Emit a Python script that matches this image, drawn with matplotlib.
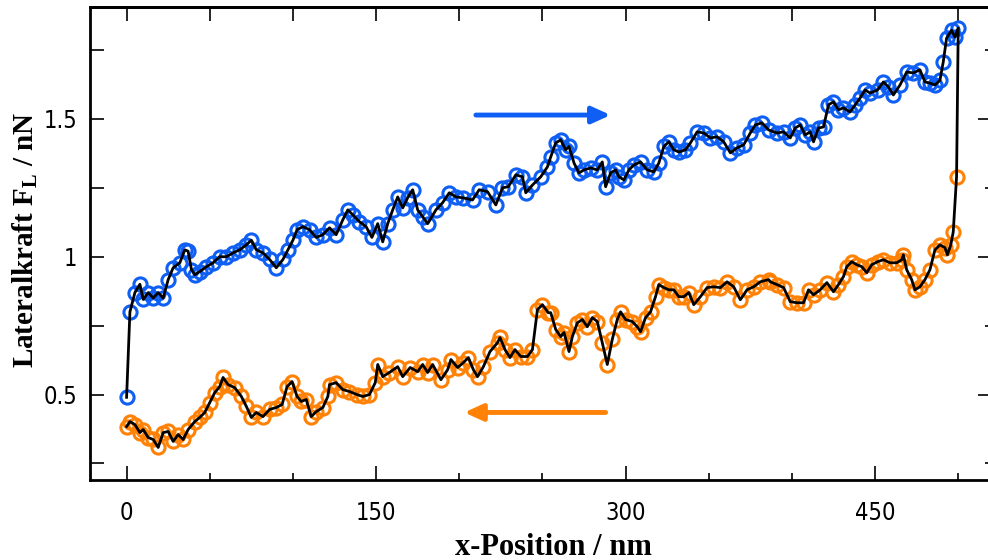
import matplotlib
matplotlib.use("Agg")
import matplotlib.pyplot as plt
from matplotlib.ticker import MultipleLocator

# ---- data: trace (blue, left -> right) ----
trace_x = [0, 2, 5, 8, 10, 13, 16, 19, 22, 25, 28, 32, 35, 37, 39, 41, 44, 48, 52, 56,
           60, 64, 68, 72, 75, 78, 82, 86, 90, 94, 97, 100, 102.5, 106, 110, 114, 118, 122,
           126, 130, 133, 136, 140, 144, 147.5, 151, 154, 157, 160, 163, 166, 169, 172, 175,
           178, 181, 186, 190, 194, 198, 202, 208, 212, 217, 222, 226, 229.5, 234, 238, 240,
           244, 249, 253, 255, 258, 261, 264, 266, 269, 272, 275, 279, 283, 286, 288, 291,
           294, 296, 299, 302, 305, 309, 313, 317, 320, 323, 326, 329, 332, 336, 339, 343,
           347, 351, 355, 359, 363, 367, 371, 375, 378, 382, 386, 391, 395, 399, 402, 405,
           408, 411, 413, 416, 419, 422, 425, 428, 431, 435, 438, 441, 444, 447, 451.5, 455,
           458, 461, 465, 469, 473, 477, 480, 483, 486, 489, 491, 493, 496, 498, 500]
trace_y = [0.49, 0.80, 0.87, 0.90, 0.845, 0.87, 0.85, 0.87, 0.85, 0.917, 0.96, 0.978, 1.025,
           1.02, 0.953, 0.935, 0.946, 0.964, 0.978, 1.0, 1.0, 1.014, 1.025, 1.043, 1.06, 1.025,
           1.014, 0.99, 0.96, 0.99, 1.025, 1.06, 1.098, 1.109, 1.098, 1.07, 1.08, 1.105,
           1.08, 1.134, 1.17, 1.152, 1.127, 1.109, 1.07, 1.12, 1.054, 1.12, 1.17, 1.217,
           1.177, 1.214, 1.243, 1.17, 1.145, 1.12, 1.17, 1.196, 1.232, 1.217, 1.214, 1.206,
           1.243, 1.236, 1.188, 1.25, 1.254, 1.297, 1.29, 1.232, 1.26, 1.29, 1.326, 1.362,
           1.413, 1.424, 1.388, 1.40, 1.34, 1.304, 1.315, 1.322, 1.315, 1.344, 1.254, 1.304,
           1.315, 1.29, 1.279, 1.315, 1.333, 1.344, 1.315, 1.308, 1.34, 1.40, 1.417, 1.388,
           1.38, 1.388, 1.413, 1.453, 1.449, 1.431, 1.435, 1.417, 1.377, 1.395, 1.406, 1.449,
           1.478, 1.486, 1.46, 1.449, 1.453, 1.431, 1.467, 1.478, 1.442, 1.453, 1.417, 1.467,
           1.471, 1.551, 1.562, 1.533, 1.54, 1.525, 1.551, 1.576, 1.605, 1.594, 1.605, 1.634,
           1.616, 1.587, 1.623, 1.67, 1.667, 1.678, 1.634, 1.63, 1.623, 1.64, 1.707, 1.793,
           1.822, 1.797, 1.83]

# ---- data: retrace (orange, right -> left) ----
retrace_x = [499, 497, 495.5, 493.5, 492, 489, 486, 483, 480, 477, 474, 472, 469, 467, 466,
             463, 459, 455, 451.5, 448, 445, 442, 439, 436, 433, 431, 428, 425, 421, 417,
             413, 410, 407, 403, 399, 395, 391, 387, 386, 381, 377, 373, 369, 365, 361, 357,
             353, 349, 345, 341, 338, 335, 332, 329, 326, 323, 320, 318, 315, 312, 309, 307,
             304, 300, 297, 295, 292, 289, 286, 283, 280, 277, 274, 271, 268, 266, 263, 261,
             258, 255, 253.5, 250, 247, 244, 241, 237, 233.5, 230.5, 227.5, 224.5, 223,
             218.5, 214.5, 211, 208.5, 205.5, 202.5, 199, 195, 193, 189, 184, 181, 178, 175,
             170.5, 166, 163, 158, 154, 151, 149.5, 146, 142, 138.5, 134, 130, 126, 122, 121,
             118, 114, 111, 108, 105, 102.5, 99.5, 96.5, 93.5, 90, 86, 82, 78, 75, 72, 69, 65,
             61, 58, 56, 53, 50, 47, 44, 41, 37, 34, 31, 28, 25, 22, 19, 16, 13, 10, 8, 5, 2, 0]
retrace_y = [1.29, 1.09, 1.043, 1.007, 1.033, 1.043, 1.025, 0.953, 0.917, 0.891, 0.88, 0.917,
             0.953, 1.007, 0.989, 0.978, 0.978, 0.989, 0.982, 0.971, 0.942, 0.964, 0.971,
             0.982, 0.964, 0.928, 0.899, 0.873, 0.906, 0.88, 0.862, 0.88, 0.833, 0.833, 0.837,
             0.888, 0.899, 0.909, 0.917, 0.909, 0.891, 0.88, 0.844, 0.891, 0.909, 0.888,
             0.891, 0.888, 0.855, 0.826, 0.87, 0.855, 0.855, 0.88, 0.88, 0.888, 0.899, 0.855,
             0.80, 0.779, 0.728, 0.746, 0.765, 0.772, 0.80, 0.772, 0.70, 0.609, 0.688, 0.765,
             0.779, 0.746, 0.772, 0.76, 0.71, 0.656, 0.725, 0.71, 0.736, 0.797, 0.797, 0.826,
             0.808, 0.663, 0.638, 0.638, 0.663, 0.634, 0.663, 0.707, 0.688, 0.656, 0.601,
             0.565, 0.59, 0.634, 0.616, 0.598, 0.627, 0.59, 0.554, 0.609, 0.58, 0.609, 0.583,
             0.598, 0.565, 0.601, 0.58, 0.565, 0.609, 0.543, 0.50, 0.493, 0.50, 0.511, 0.518,
             0.543, 0.536, 0.493, 0.453, 0.438, 0.42, 0.482, 0.475, 0.493, 0.547, 0.529,
             0.464, 0.453, 0.446, 0.42, 0.435, 0.417, 0.457, 0.493, 0.525, 0.536, 0.562,
             0.529, 0.507, 0.471, 0.435, 0.417, 0.402, 0.373, 0.337, 0.355, 0.33, 0.366,
             0.362, 0.308, 0.337, 0.344, 0.373, 0.362, 0.391, 0.402, 0.384]

x_ticks = [0, 150, 300, 450]
x_ticklabels = ["0", "150", "300", "450"]
y_ticks = [0.5, 1.0, 1.5]
y_ticklabels = ["0.5", "1", "1.5"]

BLUE = "#0f5ff5"
ORANGE = "#ff8207"

serif = ["Liberation Serif", "DejaVu Serif"]
plt.rcParams["mathtext.fontset"] = "custom"
plt.rcParams["mathtext.bf"] = "Liberation Serif:bold"
plt.rcParams["mathtext.rm"] = "Liberation Serif:bold"

fig = plt.figure(figsize=(9.88, 5.6), dpi=100)
ax = fig.add_axes([90 / 988, 80 / 560, 899 / 988, 473 / 560])

ax.plot(trace_x, trace_y, ls="none", marker="o", ms=9.5, mfc="none", mec=BLUE, mew=2.2, zorder=2)
ax.plot(retrace_x, retrace_y, ls="none", marker="o", ms=9.5, mfc="none", mec=ORANGE, mew=2.2, zorder=2)
ax.plot(trace_x + retrace_x, trace_y + retrace_y, color="black", lw=2.0, zorder=3)

ax.annotate("", xy=(291, 1.514), xytext=(210, 1.514),
            arrowprops=dict(arrowstyle="-|>,head_length=1.1,head_width=0.5", color=BLUE, lw=3.5,
                            shrinkA=0, shrinkB=0))
ax.annotate("", xy=(203, 0.435), xytext=(288, 0.435),
            arrowprops=dict(arrowstyle="-|>,head_length=1.1,head_width=0.5", color=ORANGE, lw=3.5,
                            shrinkA=0, shrinkB=0))

ax.set_xlim(-22, 518.5)
ax.set_ylim(0.19, 1.906)

for s in ax.spines.values():
    s.set_linewidth(2.0)

ax.set_xticks(x_ticks)
ax.set_xticklabels(x_ticklabels)
ax.xaxis.set_minor_locator(MultipleLocator(50))
ax.set_yticks(y_ticks)
ax.set_yticklabels(y_ticklabels)
ax.yaxis.set_minor_locator(MultipleLocator(0.25))
ax.tick_params(axis="x", which="major", direction="in", length=10, width=1.2, pad=15,
               labelsize=17, top=False)
ax.tick_params(axis="x", which="minor", direction="in", length=5, width=1.2, top=False)
ax.tick_params(axis="y", which="both", direction="in", length=10, width=1.2, pad=9,
               labelsize=17, right=False)
for lab in ax.get_xticklabels() + ax.get_yticklabels():
    lab.set_family("DejaVu Sans")
    lab.set_stretch("condensed")

sec_top = ax.secondary_xaxis("top")
sec_top.set_xticks(list(range(0, 501, 50)))
sec_top.tick_params(direction="in", length=10, width=1.2, labeltop=False)
sec_right = ax.secondary_yaxis("right")
sec_right.set_yticks(y_ticks)
sec_right.yaxis.set_minor_locator(MultipleLocator(0.25))
sec_right.tick_params(which="major", direction="in", length=8, width=1.2, labelright=False)
sec_right.tick_params(which="minor", direction="in", length=3, width=1.2)
for sa in (sec_top, sec_right):
    for s in sa.spines.values():
        s.set_linewidth(2.0)

ax.set_xlabel("x-Position / nm", family=serif, fontweight="bold", fontsize=22)
ax.set_ylabel(r"Lateralkraft F$_\mathbf{L}$ / nN", family=serif, fontweight="bold",
              fontsize=21)
ax.xaxis.set_label_coords(0.515, -0.142, transform=ax.transAxes)
ax.yaxis.set_label_coords(-0.072, 0.507, transform=ax.transAxes)
ax.xaxis.label.set_va("center")
ax.yaxis.label.set_va("center")

fig.savefig("out.png", dpi=100)
